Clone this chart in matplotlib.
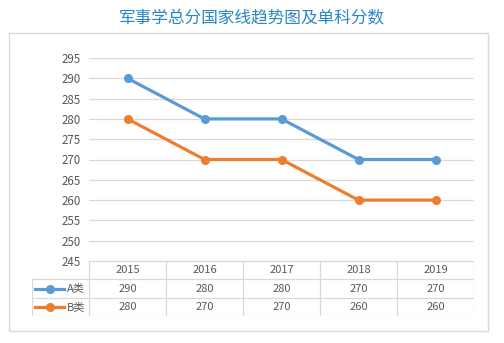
import matplotlib
matplotlib.use('Agg')
from matplotlib import pyplot as plt
from matplotlib.patches import Rectangle

plt.rcParams['font.family'] = ['Noto Sans CJK SC', 'DejaVu Sans']

years = ['2015', '2016', '2017', '2018', '2019']
series_names = ['A类', 'B类']
a_scores = [290, 280, 280, 270, 270]
b_scores = [280, 270, 270, 260, 260]
colors = ['#5b9bd5', '#ed7d31']
title = '军事学总分国家线趋势图及单科分数'

W, H = 504, 343
fig = plt.figure(figsize=(W / 100, H / 100), dpi=100)


def box(x0, y0, x1, y1):
    # pixel box (top-left origin) -> figure fraction rect
    return [x0 / W, 1 - y1 / H, (x1 - x0) / W, (y1 - y0) / H]


# outer chart frame
fig.patches.append(Rectangle((9 / W, 1 - 331 / H), 479 / W, 298 / H, transform=fig.transFigure,
                             fill=False, edgecolor='#d9d9d9', linewidth=1))
fig.text(0.5, 1 - 19 / H, title, ha='center', va='center', fontsize=12, color='#2b86c5')

# line plot
ax = fig.add_axes(box(89, 58, 474, 261))
x = range(len(years))
for vals, c in zip([a_scores, b_scores], colors):
    ax.plot(x, vals, color=c, linewidth=2.3, marker='o', markersize=5.5)
ax.set_xlim(-0.5, len(years) - 0.5)
ax.set_ylim(245, 295)
ax.set_yticks(range(245, 296, 5))
ax.yaxis.grid(True, color='#d9d9d9', linewidth=0.9)
ax.set_axisbelow(True)
ax.set_xticks([])
ax.tick_params(axis='y', length=0, labelsize=8.3, labelcolor='#595959', pad=6)
for s in ax.spines.values():
    s.set_visible(False)

# data table below
tb = fig.add_axes(box(32, 261, 474, 316))
ncol = len(years)
# column 0 spans label region; pixel widths
lab_w = (89 - 32) / (474 - 89) * ncol
tb.set_xlim(-0.5 - lab_w, ncol - 0.5)
tb.set_ylim(3, 0)
tb.axis('off')
lc = '#d9d9d9'
# horizontal lines
tb.plot([-0.5, ncol - 0.5], [0, 0], color=lc, lw=0.9)
for r in [1, 2, 3]:
    tb.plot([-0.5 - lab_w, ncol - 0.5], [r, r], color=lc, lw=0.9)
# vertical lines
tb.plot([-0.5 - lab_w, -0.5 - lab_w], [1, 3], color=lc, lw=0.9)
for c in range(ncol + 1):
    tb.plot([c - 0.5, c - 0.5], [0, 3], color=lc, lw=0.9)
for i, yr in enumerate(years):
    tb.text(i, 0.5, yr, ha='center', va='center', fontsize=8, color='#595959')
px = lab_w / (89 - 32)  # data units per pixel
for r, (vals, name, c) in enumerate(zip([a_scores, b_scores], series_names, colors), start=1):
    for i, v in enumerate(vals):
        tb.text(i, r + 0.5, str(v), ha='center', va='center', fontsize=8, color='#595959')
    x0 = -0.5 - lab_w + 3 * px
    tb.plot([x0, x0 + 29 * px], [r + 0.5, r + 0.5], color=c, lw=2.3)
    tb.plot([x0 + 15 * px], [r + 0.5], color=c, marker='o', markersize=5.5)
    tb.text(x0 + 32 * px, r + 0.5, name, ha='left', va='center', fontsize=8, color='#595959')

fig.savefig('out.png', dpi=100, facecolor='white')
